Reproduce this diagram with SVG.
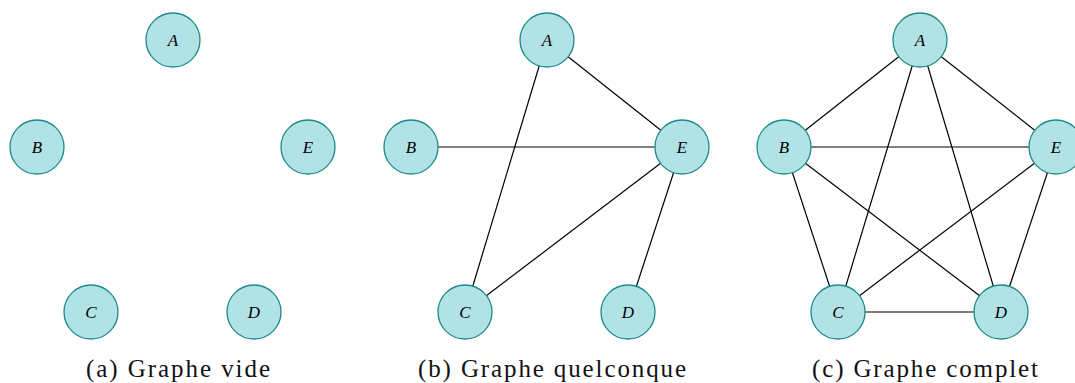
<svg xmlns="http://www.w3.org/2000/svg" width="1075" height="383" viewBox="0 0 1075 383">
<style>
.n circle{fill:#b0e2e6;stroke:#1e8a8a;stroke-width:1.3}
.n text{font-family:"Liberation Serif",serif;font-style:italic;font-size:17px;text-anchor:middle;dominant-baseline:central;fill:#000}
.e line{stroke:#000;stroke-width:1.2}
.cap{font-family:"Liberation Serif",serif;font-size:25px;text-anchor:middle;fill:#111}
</style>
<rect width="1075" height="383" fill="#fff"/>
<g id="edges-b" class="e">
<line x1="547" y1="40" x2="465" y2="312"/>
<line x1="547" y1="40" x2="682" y2="147"/>
<line x1="411" y1="147" x2="682" y2="147"/>
<line x1="465" y1="312" x2="682" y2="147"/>
<line x1="628" y1="312" x2="682" y2="147"/>
</g>
<g id="edges-c" class="e">
<line x1="920" y1="40" x2="784" y2="147"/>
<line x1="920" y1="40" x2="1056" y2="147"/>
<line x1="920" y1="40" x2="838" y2="312"/>
<line x1="920" y1="40" x2="1001" y2="312"/>
<line x1="784" y1="147" x2="1056" y2="147"/>
<line x1="784" y1="147" x2="838" y2="312"/>
<line x1="784" y1="147" x2="1001" y2="312"/>
<line x1="1056" y1="147" x2="838" y2="312"/>
<line x1="1056" y1="147" x2="1001" y2="312"/>
<line x1="838" y1="312" x2="1001" y2="312"/>
</g>
<g id="a-A" class="n"><circle cx="173" cy="40" r="27"/><text x="173" y="40">A</text></g>
<g id="a-B" class="n"><circle cx="37" cy="147" r="27"/><text x="37" y="147">B</text></g>
<g id="a-E" class="n"><circle cx="308" cy="147" r="27"/><text x="308" y="147">E</text></g>
<g id="a-C" class="n"><circle cx="91" cy="312" r="27"/><text x="91" y="312">C</text></g>
<g id="a-D" class="n"><circle cx="254" cy="312" r="27"/><text x="254" y="312">D</text></g>
<g id="b-A" class="n"><circle cx="547" cy="40" r="27"/><text x="547" y="40">A</text></g>
<g id="b-B" class="n"><circle cx="411" cy="147" r="27"/><text x="411" y="147">B</text></g>
<g id="b-E" class="n"><circle cx="682" cy="147" r="27"/><text x="682" y="147">E</text></g>
<g id="b-C" class="n"><circle cx="465" cy="312" r="27"/><text x="465" y="312">C</text></g>
<g id="b-D" class="n"><circle cx="628" cy="312" r="27"/><text x="628" y="312">D</text></g>
<g id="c-A" class="n"><circle cx="920" cy="40" r="27"/><text x="920" y="40">A</text></g>
<g id="c-B" class="n"><circle cx="784" cy="147" r="27"/><text x="784" y="147">B</text></g>
<g id="c-E" class="n"><circle cx="1056" cy="147" r="27"/><text x="1056" y="147">E</text></g>
<g id="c-C" class="n"><circle cx="838" cy="312" r="27"/><text x="838" y="312">C</text></g>
<g id="c-D" class="n"><circle cx="1001" cy="312" r="27"/><text x="1001" y="312">D</text></g>
<text class="cap" x="178" y="377" textLength="184">(a) Graphe vide</text>
<text class="cap" x="552" y="377" textLength="268">(b) Graphe quelconque</text>
<text class="cap" x="925" y="377" textLength="226">(c) Graphe complet</text>
</svg>
